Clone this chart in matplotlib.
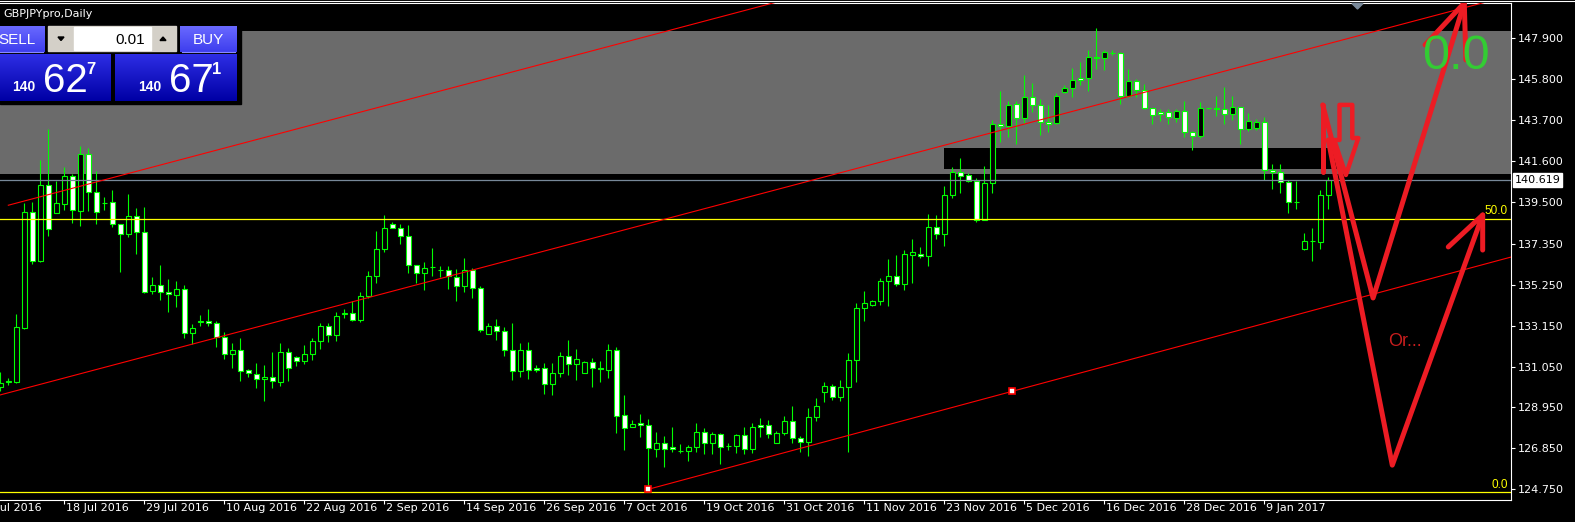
import numpy as np
import matplotlib
matplotlib.use("Agg")
import matplotlib.pyplot as plt
from matplotlib.patches import Rectangle, Polygon
from matplotlib.transforms import blended_transform_factory

# --- GBPJPY daily candles (bar index 0 .. 166) ---------------------------------

opens = [
    130.00, 130.25, 130.27, 133.05, 138.97, 136.47, 140.36, 138.95, 139.41, 140.82,
    139.05, 141.95, 140.00, 139.47, 139.48, 138.35, 137.84, 138.76, 137.94, 134.94,
    135.22, 134.86, 134.74, 135.02, 132.79, 133.33, 133.39, 133.27, 132.58, 131.68,
    131.89, 130.86, 130.68, 130.40, 130.50, 130.27, 131.78, 131.53, 131.32, 131.68,
    132.35, 133.12, 132.66, 133.77, 133.79, 133.43, 134.66, 135.69, 137.07, 138.35,
    138.15, 137.74, 136.25, 135.84, 136.16, 136.03, 135.99, 135.63, 135.19, 135.99,
    135.07, 132.71, 133.12, 132.86, 131.89, 130.81, 131.89, 130.96, 130.96, 130.14,
    130.70, 131.58, 131.17, 130.70, 131.27, 130.95, 130.89, 131.89, 128.55, 127.93,
    128.14, 128.04, 126.80, 127.11, 126.91, 126.73, 126.70, 126.91, 127.71, 127.11,
    127.57, 126.97, 126.96, 127.52, 126.80, 128.04, 128.04, 127.11, 127.63, 128.24,
    127.37, 127.16, 128.45, 129.73, 130.04, 129.47, 129.99, 131.37, 134.04, 134.19,
    134.40, 135.43, 135.69, 135.27, 136.76, 136.81, 136.71, 138.20, 137.84, 139.84,
    141.02, 140.87, 140.56, 138.56, 140.46, 143.49, 143.39, 144.51, 143.79, 144.87,
    144.46, 143.59, 143.54, 145.13, 145.33, 145.85, 145.85, 146.92, 146.87, 147.14,
    147.13, 144.92, 145.69, 145.23, 144.31, 144.10, 144.10, 143.79, 144.15, 143.08,
    142.87, 144.31, 144.30, 144.26, 144.00, 144.36, 143.23, 143.28, 143.59, 141.13,
    141.02, 140.51, 139.52, 137.07, 137.49, 137.43, 139.84,
]
highs = [
    130.77, 130.46, 133.75, 139.43, 139.51, 141.65, 143.25, 140.57, 141.28, 140.94,
    142.37, 142.25, 141.09, 139.77, 140.11, 138.35, 139.91, 139.17, 139.22, 135.63,
    136.26, 135.55, 135.44, 135.22, 133.24, 133.70, 133.99, 133.39, 132.81, 132.24,
    132.50, 130.91, 131.22, 131.12, 131.78, 132.24, 131.99, 131.60, 132.14, 132.50,
    133.29, 133.27, 133.84, 134.02, 134.40, 134.86, 135.94, 137.99, 138.82, 138.46,
    138.37, 138.32, 136.25, 136.42, 137.14, 136.21, 136.21, 136.04, 136.61, 136.09,
    135.17, 133.27, 133.49, 133.07, 133.29, 132.26, 132.30, 131.12, 131.22, 131.22,
    131.78, 132.40, 131.95, 131.32, 131.47, 131.32, 132.21, 132.04, 129.58, 128.29,
    128.62, 128.34, 127.69, 127.47, 127.93, 127.08, 127.03, 128.16, 127.88, 127.68,
    127.64, 127.11, 127.57, 127.95, 128.14, 128.41, 128.29, 127.73, 128.50, 129.03,
    127.47, 128.91, 129.42, 130.25, 130.14, 130.35, 131.73, 134.30, 134.91, 134.45,
    135.60, 136.57, 136.78, 137.02, 137.60, 137.19, 138.87, 138.82, 140.30, 141.28,
    141.76, 140.97, 140.72, 141.35, 143.71, 145.20, 144.67, 144.67, 146.00, 145.59,
    144.77, 144.46, 145.08, 145.49, 146.36, 146.67, 147.28, 148.41, 147.28, 147.28,
    147.18, 146.31, 145.80, 145.54, 144.31, 144.26, 144.26, 144.26, 144.67, 143.13,
    144.61, 144.33, 144.92, 145.39, 144.92, 144.36, 144.05, 143.74, 143.85, 141.43,
    141.43, 140.61, 140.56, 137.89, 138.15, 140.10, 140.77,
]
lows = [
    129.80, 130.10, 130.19, 132.98, 136.31, 136.43, 137.75, 138.92, 139.09, 138.44,
    138.27, 139.04, 138.37, 139.09, 138.23, 135.92, 137.72, 136.85, 134.84, 134.77,
    134.47, 133.85, 134.12, 132.52, 132.19, 133.13, 133.13, 132.07, 131.42, 130.99,
    130.31, 130.53, 129.97, 129.28, 129.97, 130.07, 130.33, 131.10, 131.17, 131.39,
    131.94, 132.33, 132.35, 133.56, 133.37, 133.33, 134.59, 135.36, 136.91, 138.15,
    137.33, 135.84, 135.36, 135.00, 135.70, 135.63, 135.05, 134.43, 134.89, 134.59,
    132.84, 132.71, 132.40, 131.61, 130.38, 130.53, 130.43, 130.79, 129.66, 129.61,
    130.53, 130.63, 130.38, 130.70, 130.02, 130.27, 130.48, 127.66, 126.78, 127.93,
    127.45, 124.75, 126.42, 125.91, 126.65, 126.60, 126.22, 126.68, 126.58, 126.58,
    126.07, 126.77, 126.60, 126.58, 126.60, 127.42, 127.40, 127.11, 127.52, 127.11,
    126.68, 126.47, 128.27, 129.25, 129.32, 129.27, 126.68, 130.27, 133.41, 134.14,
    134.19, 134.14, 135.17, 134.97, 135.36, 136.64, 136.23, 137.61, 137.25, 139.72,
    139.94, 140.51, 138.49, 138.56, 139.94, 142.59, 142.85, 142.49, 143.54, 144.10,
    142.92, 143.08, 143.49, 145.08, 144.87, 145.49, 145.18, 146.31, 146.26, 147.03,
    144.51, 144.87, 144.87, 144.26, 143.49, 143.64, 143.49, 143.59, 142.82, 142.15,
    142.77, 144.29, 143.90, 143.49, 143.69, 142.46, 143.13, 143.18, 140.61, 140.15,
    139.94, 138.92, 139.12, 137.02, 136.45, 137.07, 139.12,
]
closes = [
    130.21, 130.29, 133.07, 138.97, 136.48, 140.36, 138.10, 139.43, 140.82, 139.07,
    141.95, 140.00, 139.00, 139.44, 138.35, 137.84, 138.76, 137.94, 134.89, 135.22,
    134.86, 134.76, 135.02, 132.79, 133.03, 133.37, 133.27, 132.58, 131.68, 131.89,
    130.82, 130.70, 130.40, 130.50, 130.29, 131.78, 130.96, 131.32, 131.68, 132.35,
    133.12, 132.66, 133.63, 133.81, 133.43, 134.66, 135.69, 137.07, 138.15, 138.15,
    137.74, 136.25, 135.84, 136.10, 136.14, 136.01, 135.69, 135.17, 135.99, 135.07,
    132.91, 133.12, 132.86, 131.89, 130.81, 131.89, 130.86, 130.86, 130.14, 130.70,
    131.58, 131.17, 131.42, 131.27, 130.96, 130.93, 131.89, 128.50, 127.88, 128.09,
    128.04, 126.85, 127.11, 126.80, 126.80, 126.71, 126.91, 127.71, 127.11, 127.57,
    126.91, 126.95, 127.52, 126.80, 127.93, 127.93, 127.57, 127.63, 128.24, 127.37,
    127.16, 128.45, 129.01, 130.04, 129.47, 129.99, 131.37, 134.04, 134.30, 134.40,
    135.43, 135.69, 135.27, 136.81, 136.91, 136.71, 138.20, 137.84, 139.84, 141.02,
    140.82, 140.56, 138.56, 140.46, 143.49, 143.39, 144.46, 143.79, 144.87, 144.46,
    143.59, 143.49, 144.92, 145.33, 145.74, 145.74, 146.93, 146.90, 147.18, 147.12,
    144.92, 145.69, 145.23, 144.31, 143.95, 144.00, 143.85, 144.15, 143.08, 142.87,
    144.31, 144.31, 144.28, 144.00, 144.36, 143.23, 143.64, 143.59, 141.13, 141.02,
    140.51, 139.48, 139.50, 137.48, 137.47, 139.84, 140.619,
]

date_ticks = [-2, 8, 18, 28, 38, 48, 58, 68, 78, 88, 98, 108, 118, 128, 138, 148, 158]
date_labels = ["6 Jul 2016", "18 Jul 2016", "29 Jul 2016", "10 Aug 2016", "22 Aug 2016",
               "2 Sep 2016", "14 Sep 2016", "26 Sep 2016", "7 Oct 2016", "19 Oct 2016",
               "31 Oct 2016", "11 Nov 2016", "23 Nov 2016", "5 Dec 2016", "16 Dec 2016",
               "28 Dec 2016", "9 Jan 2017"]
price_ticks = [147.900, 145.800, 143.700, 141.600, 139.500, 137.350,
               135.250, 133.150, 131.050, 128.950, 126.850, 124.750]
last_price = 140.619

fib_levels = [124.60, 138.63]
fib_labels = ["0.0", "50.0"]

# supply zone and the black box inside it
zone_prices = (140.93, 148.27)
box_bars = (118, 167.4)
box_prices = (141.19, 142.27)

# channel lines: (bar, price) pairs
chan_upper = ([1, 100], [139.33, 150.08])
chan_mid = ([-0.04, 188.84], [129.59, 150.10])
chan_low = ([81, 188.84], [124.75, 136.67])
chan_handles = ([81, 126.5], [124.75, 129.78])

# hand drawn scenario arrows (bar, price)
path_a = ([165.3, 171.6, 183.0], [144.48, 134.57, 149.71])
head_a = ([178.1, 183.0, 183.2], [147.56, 149.71, 146.79])
bar_a = ([165.3, 165.3], [144.48, 141.04])
path_b = ([166.0, 174.0, 185.3], [142.68, 125.99, 138.83])
head_b = ([181.0, 185.3, 185.3], [137.19, 138.83, 137.03])
down_arrow = ([167.4, 169.0, 169.0, 169.75, 168.2, 166.75, 167.4],
              [144.48, 144.48, 142.78, 142.78, 140.88, 142.68, 142.68])

GREEN = "#00ff00"
HAND_RED = "#ed1c24"

fig = plt.figure(figsize=(15.75, 5.22), dpi=100, facecolor="black")
ax = fig.add_axes([0, 22 / 522, 1511 / 1575, 497 / 522], facecolor="black")
ax.set_xlim(-0.04, 188.84)
ax.set_ylim(124.20, 149.71)

# zones
ax.axhspan(zone_prices[0], zone_prices[1], color="#6b6b6b", lw=0, zorder=0.5)
ax.add_patch(Rectangle((box_bars[0], box_prices[0]), box_bars[1] - box_bars[0],
                       box_prices[1] - box_prices[0], color="black", lw=0, zorder=0.6))

# candles
o = np.array(opens)
h = np.array(highs)
l = np.array(lows)
c = np.array(closes)
x = np.arange(len(o))
bull = c >= o
ax.vlines(x, l, h, color=GREEN, lw=0.8, zorder=3)
ax.bar(x, np.abs(c - o), bottom=np.minimum(o, c), width=0.6,
       color=np.where(bull, "black", "white"), edgecolor=GREEN, linewidth=0.8, zorder=3.5)

# horizontal levels
ax.axhline(last_price, color="#778899", lw=0.9, zorder=4)
for lvl, lab in zip(fib_levels, fib_labels):
    ax.axhline(lvl, color="#ffff00", lw=0.9, zorder=4)
    ax.text(1508 / 1511, lvl + 0.08, lab, color="#ffff00", fontsize=8.5,
            family="Liberation Sans", ha="right", va="bottom",
            transform=blended_transform_factory(ax.transAxes, ax.transData), zorder=4)

# channel lines
for xs, ys in (chan_upper, chan_mid, chan_low):
    ax.plot(xs, ys, color="#ff0000", lw=0.8, zorder=4.5)
ax.plot(chan_handles[0], chan_handles[1], ls="none", marker="s", ms=4,
        mfc="white", mec="#ff0000", mew=1.2, zorder=4.6)

# hand drawn arrows and notes
for xs, ys in (path_a, head_a, bar_a, path_b, head_b):
    ax.plot(xs, ys, color=HAND_RED, lw=3.6, solid_capstyle="round",
            solid_joinstyle="round", zorder=6)
ax.add_patch(Polygon(np.column_stack(down_arrow), closed=True, fill=False,
                     edgecolor=HAND_RED, lw=3.2, joinstyle="round", zorder=6))
ax.text(181.96, 146.94, "0.0", color="#33cc33", fontsize=35, family="Liberation Sans",
        ha="center", va="center", zorder=6)
ax.text(173.46, 132.33, "Or...", color="#c81e1e", fontsize=13, family="Liberation Sans",
        ha="left", va="center", zorder=6)

# axes styling
for side in ("top", "right", "bottom"):
    ax.spines[side].set_color("white")
    ax.spines[side].set_linewidth(0.8)
ax.spines["left"].set_visible(False)
ax.yaxis.tick_right()
ax.set_yticks(price_ticks)
ax.set_yticklabels([f"{p:.3f}" for p in price_ticks])
ax.tick_params(axis="y", colors="white", labelsize=8, length=3, width=0.8, pad=2)
ax.set_xticks([t for t in date_ticks if t >= 0])
ax.set_xticklabels([])
ax.tick_params(axis="x", colors="white", length=3, width=0.8)
xlab_tr = blended_transform_factory(ax.transData, ax.transAxes)
for t, lab in zip(date_ticks, date_labels):
    ax.text(t + 0.25, -0.017, lab, color="white", fontsize=8, ha="left", va="center",
            transform=xlab_tr, clip_on=False)

# current price box
ax.text(1.0025, last_price, f"{last_price:.3f}", color="black", fontsize=8, ha="left",
        va="center", transform=blended_transform_factory(ax.transAxes, ax.transData),
        bbox=dict(boxstyle="square,pad=0.15", fc="white", ec="white"), zorder=7)

# --- overlay in pixel coordinates: terminal header and one-click panel ----------
ov = fig.add_axes([0, 0, 1, 1], zorder=10)
ov.patch.set_alpha(0)
ov.axis("off")


def grad_box(x0, y0, x1, y1, top, bottom):
    g = np.linspace(0, 1, 32)[:, None, None]
    img = np.array(top)[None, None, :] / 255 * (1 - g) + np.array(bottom)[None, None, :] / 255 * g
    ov.imshow(img, extent=(x0, x1, y1, y0), aspect="auto", interpolation="bilinear", zorder=2)


ov.plot([0, 1575], [0.5, 0.5], color="white", lw=0.8)
ov.add_patch(Polygon([(1352, 3.5), (1363, 3.5), (1357.5, 9)], color="#7a8a9a", zorder=3))

ov.add_patch(Rectangle((0, 21), 241, 83, color="black", zorder=1))
ov.text(3, 14, "GBPJPYpro,Daily", color="white", fontsize=8, ha="left", va="center")

narrow = ["Liberation Sans Narrow", "Liberation Sans"]
grad_box(0, 26, 45, 52, (105, 105, 255), (62, 62, 238))
grad_box(180, 26, 237, 52, (105, 105, 255), (62, 62, 238))
ov.plot([0, 43], [52, 52], color="#8a8aff", lw=0.8, zorder=3)
ov.plot([182, 235], [52, 52], color="#8a8aff", lw=0.8, zorder=3)
ov.text(17, 39.5, "SELL", color="white", fontsize=11, family=narrow, ha="center", va="center", zorder=4)
ov.text(208, 39.5, "BUY", color="white", fontsize=11, family=narrow, ha="center", va="center", zorder=4)

ov.add_patch(Rectangle((48, 26), 128, 25, color="#d4d0c8", zorder=2))
ov.add_patch(Rectangle((74, 27), 77, 23, color="white", zorder=3))
ov.add_patch(Polygon([(58, 37), (64, 37), (61, 40.5)], color="black", zorder=4))
ov.add_patch(Polygon([(160, 40.5), (166, 40.5), (163, 37)], color="black", zorder=4))
ov.text(144.5, 39.5, "0.01", color="black", fontsize=11, family=narrow, ha="right", va="center", zorder=4)

grad_box(0, 54, 111, 101, (45, 45, 228), (0, 0, 165))
grad_box(115, 54, 237, 101, (45, 45, 228), (0, 0, 165))
for x0, big, sup in ((12, "62", "7"), (138, "67", "1")):
    ov.text(x0, 91, "140", color="white", fontsize=10, family="Liberation Sans",
            weight="bold", ha="left", va="baseline", zorder=4)
    ov.text(x0 + 31, 91.5, big, color="white", fontsize=29, family=narrow,
            ha="left", va="baseline", zorder=4)
    ov.text(x0 + 74, 62.5, sup, color="white", fontsize=12, family=narrow,
            weight="bold", ha="left", va="top", zorder=4)

ov.set_xlim(0, 1575)
ov.set_ylim(522, 0)

fig.savefig("out.png", dpi=100, facecolor="black")
